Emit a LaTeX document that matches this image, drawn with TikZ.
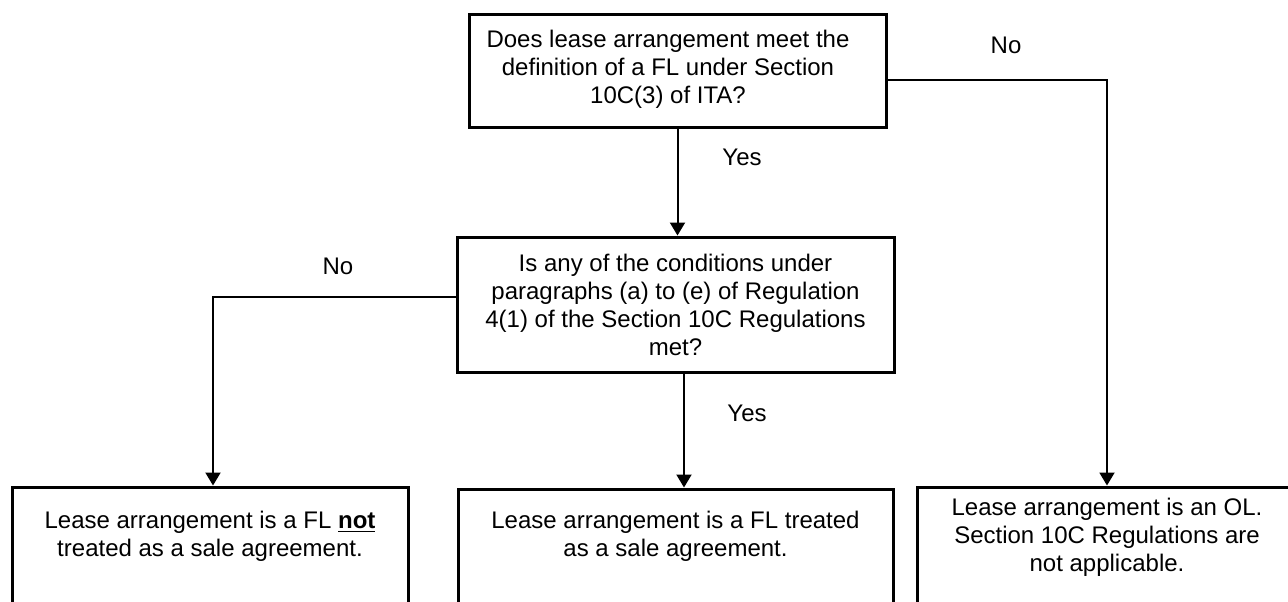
\documentclass[tikz,border=0pt]{standalone}
\usepackage{fontspec}
\setmainfont{Liberation Sans}
\usetikzlibrary{arrows.meta}
\tikzset{
  box/.style={draw=black, line width=1.5pt, fill=white, inner sep=0pt, align=center},
  conn/.style={line width=1pt, draw=black},
  arr/.style={conn, -{Triangle[width=7.5pt,length=6.5pt]}},
  lbl/.style={inner sep=0pt},
  txt/.style={inner sep=0pt, align=center, anchor=north},
}
\begin{document}
\begin{tikzpicture}[x=0.5pt,y=-0.5pt, font=\fontsize{12}{14}\selectfont]
\clip (0,0) rectangle (1288,601);
\fill[white] (0,0) rectangle (1288,601);
% boxes
\node[box, minimum width=208.5pt, minimum height=56.5pt] (top) at (677.5,70.5) {};
\node[box, minimum width=218.5pt, minimum height=67.5pt] (mid) at (675.5,304.5)
  {Is any of the conditions under\\paragraphs (a) to (e) of Regulation\\4(1) of the Section 10C Regulations\\met?};
\node[box, minimum width=198pt, minimum height=76.5pt] (bl) at (210,563.5) {};
\node[box, minimum width=217.5pt, minimum height=76pt] (bm) at (675.5,565) {};
\node[box, minimum width=190pt, minimum height=76.5pt] (br) at (1107,563.5) {};
% box texts
\node[txt] (topt) at (668,29.5) {Does lease arrangement meet the\\definition of a FL under Section\\10C(3) of ITA?};
\node[txt] (blt) at (210,510.5) {Lease arrangement is a FL \textbf{\underline{not}}\\treated as a sale agreement.};
\node[txt] (bmt) at (675.5,510.5) {Lease arrangement is a FL treated\\as a sale agreement.};
\node[txt] (brt) at (1107,497.5) {Lease arrangement is an OL.\\Section 10C Regulations are\\not applicable.};
% connectors
\draw[arr] (top.south) -- (top.south |- mid.north);
\draw[arr] ([yshift=-4.75pt]top.east) -| (br.north);
\draw[arr] ([yshift=3.75pt]mid.west) -| ([xshift=1.5pt]bl.north);
\draw[arr] ([xshift=4.25pt]mid.south) -- ([xshift=4.25pt]mid.south |- bm.north);
% labels
\node[lbl] (no1) at (1006,45) {No};
\node[lbl] (yes1) at (742,157) {Yes};
\node[lbl] (no2) at (338,266) {No};
\node[lbl] (yes2) at (747,413) {Yes};
\end{tikzpicture}
\end{document}
